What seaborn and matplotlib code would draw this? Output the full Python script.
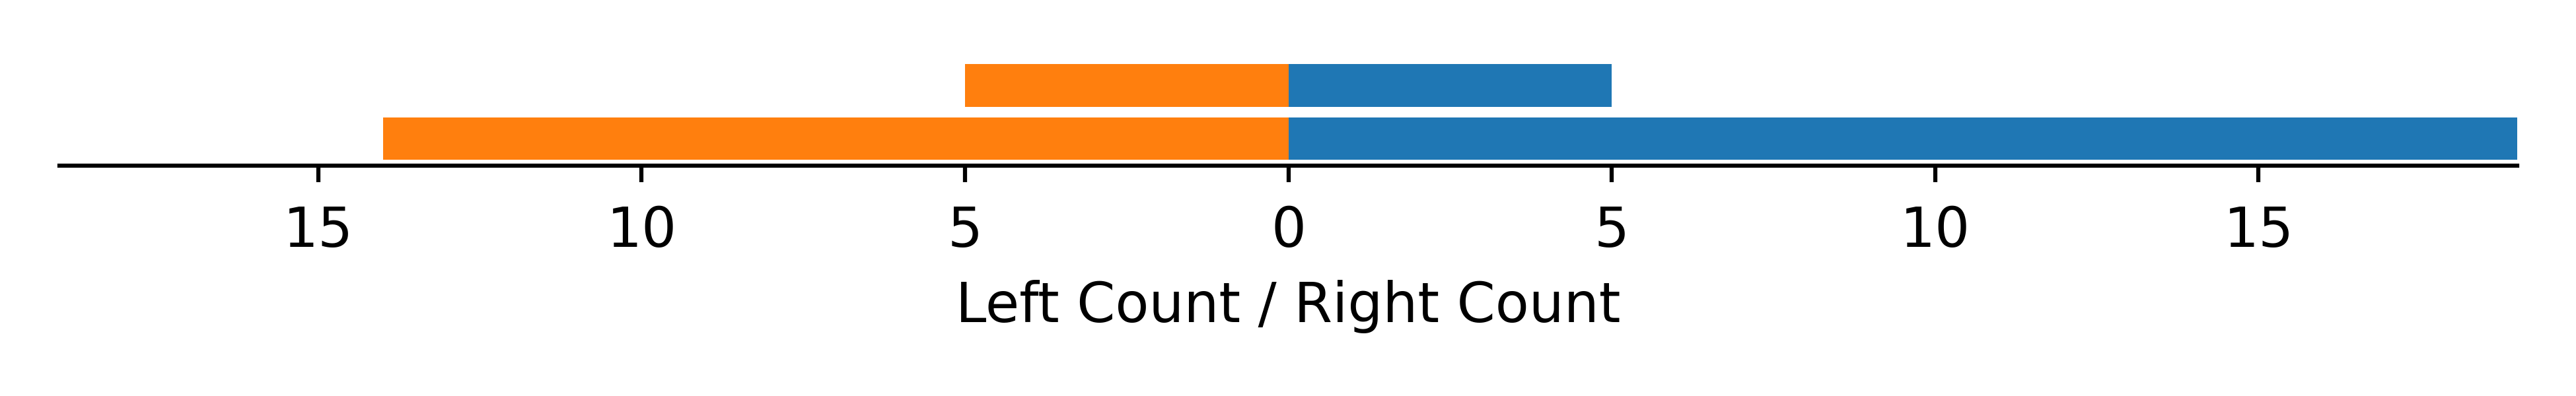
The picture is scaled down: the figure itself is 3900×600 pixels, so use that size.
import matplotlib
matplotlib.use("Agg")
import matplotlib.pyplot as plt
import seaborn as sns
import pandas as pd

groups = ["Group A", "Group B"]
right_counts = [5, 19]
left_counts = [5, 14]
tick_values = [-15, -10, -5, 0, 5, 10, 15]

sns.set_theme(style="ticks")
plt.rcParams["font.family"] = ["DejaVu Sans"]
plt.rcParams["font.size"] = 20
plt.rcParams["text.color"] = "black"
plt.rcParams["axes.labelcolor"] = "black"
plt.rcParams["xtick.color"] = "black"
plt.rcParams["axes.edgecolor"] = "black"

df = pd.DataFrame({"group": groups, "right": right_counts, "left": left_counts})
df["left_neg"] = -df["left"]

fig, ax = plt.subplots(figsize=(13, 2), dpi=300)
fig.subplots_adjust(left=0.0231, right=0.9772, bottom=0.5825, top=0.852)

sns.barplot(data=df, x="right", y="group", orient="h", color="#1f77b4",
            width=0.8, saturation=1, linewidth=0, ax=ax)
sns.barplot(data=df, x="left_neg", y="group", orient="h", color="#ff7f0e",
            width=0.8, saturation=1, linewidth=0, ax=ax)

ax.set_xlim(-19, 19)
ax.set_ylim(1.5, -0.5)
ax.set_xticks(tick_values)
ax.set_xticklabels([str(abs(v)) for v in tick_values], fontsize=20)
ax.set_xlabel("Left Count / Right Count", fontsize=20, labelpad=8)
ax.set_ylabel("")
ax.set_yticks([])
for s in ["top", "right", "left"]:
    ax.spines[s].set_visible(False)
ax.spines["bottom"].set_linewidth(1.5)
ax.tick_params(axis="x", length=6, width=1.5, pad=8.2, colors="black")

fig.savefig("out.png", dpi=300)
